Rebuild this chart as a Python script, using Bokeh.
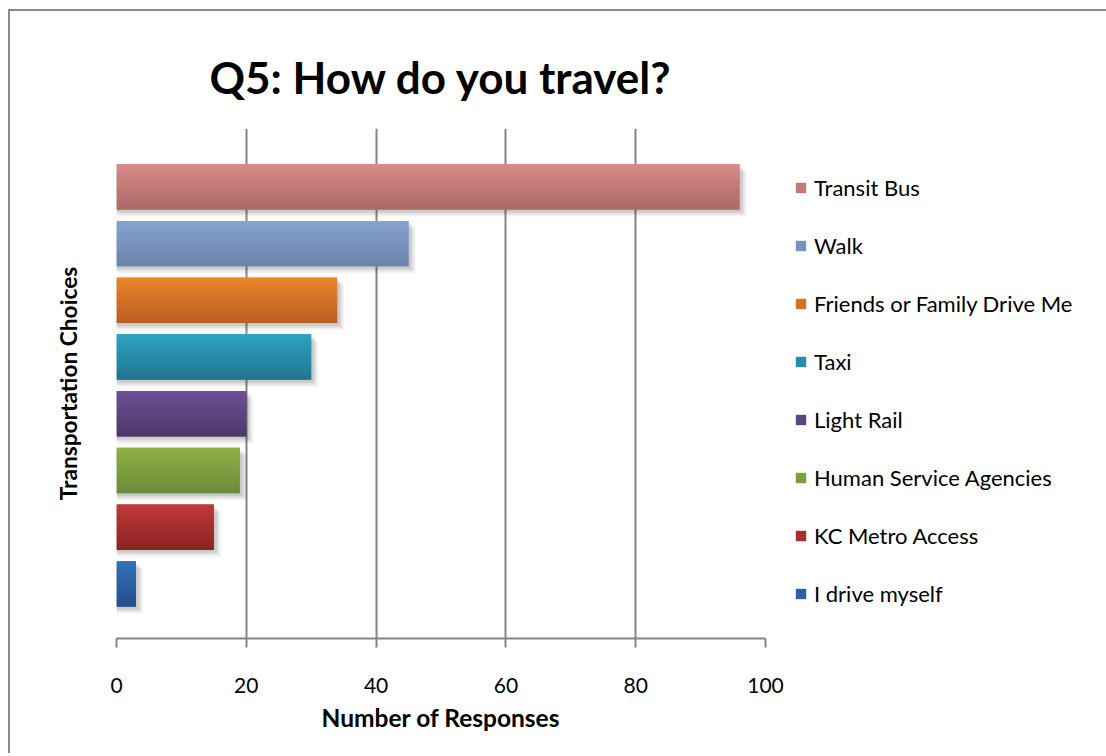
import numpy as np
from bokeh.plotting import figure
from bokeh.models import Range1d, Legend, LegendItem, FixedTicker
from bokeh.embed import file_html
from bokeh.resources import INLINE

# ---- data ----
categories = ["I drive myself", "KC Metro Access", "Human Service Agencies", "Light Rail",
              "Taxi", "Friends or Family Drive Me", "Walk", "Transit Bus"]
values = [3, 15, 19, 20, 30, 34, 45, 96]
x_ticks = [0, 20, 40, 60, 80, 100]

top_colors = ["#3572BA", "#C23A38", "#90B244", "#6F5197", "#2EA3C1", "#EF8529", "#88A4D3", "#D98B89"]
bottom_colors = ["#234E87", "#8A2322", "#698A3A", "#4D366A", "#207590", "#B75D24", "#6A82A9", "#A86A68"]

FONT = "Lato"
GRID = "#848484"

def hex2rgb(h):
    h = h.lstrip("#")
    return np.array([int(h[i:i + 2], 16) for i in (0, 2, 4)], dtype=float)

def rgb2hex(c):
    return "#%02x%02x%02x" % tuple(int(round(v)) for v in c)

p = figure(frame_width=649, frame_height=510, output_backend="svg", toolbar_location=None,
           x_range=Range1d(0, 100), y_range=Range1d(-0.963, 8.03),
           min_border_left=106, min_border_right=12, min_border_top=117, min_border_bottom=117,
           background_fill_color="white", border_fill_color="white")
p.outline_line_color = None
p.margin = (11, 0, 0, 10)
p.styles = {"box-shadow": "-2px -2px 0px 0px #8a8a8a"}

# grid
p.xgrid.ticker = FixedTicker(ticks=x_ticks)
p.xgrid.grid_line_color = GRID
p.xgrid.grid_line_width = 2
p.ygrid.grid_line_color = None

# x axis
p.xaxis.ticker = FixedTicker(ticks=x_ticks)
p.xaxis.axis_line_color = GRID
p.xaxis.axis_line_width = 2
p.xaxis.major_tick_line_color = GRID
p.xaxis.major_tick_line_width = 2
p.xaxis.major_tick_out = 9
p.xaxis.major_tick_in = 0
p.xaxis.minor_tick_line_color = None
p.xaxis.major_label_text_font = FONT
p.xaxis.major_label_text_font_size = "21px"
p.xaxis.major_label_text_color = "black"
p.xaxis.major_label_standoff = 30
p.xaxis.axis_label = "Number of Responses"
p.xaxis.axis_label_text_font = FONT
p.xaxis.axis_label_text_font_size = "24.5px"
p.xaxis.axis_label_text_font_style = "bold"
p.xaxis.axis_label_text_color = "black"
p.xaxis.axis_label_standoff = 7

# y axis
p.yaxis.ticker = FixedTicker(ticks=[])
p.yaxis.axis_line_color = None
p.yaxis.major_tick_line_color = None
p.yaxis.minor_tick_line_color = None
p.yaxis.major_label_text_font_size = "0px"
p.yaxis.axis_label = "Transportation Choices"
p.yaxis.axis_label_text_font = FONT
p.yaxis.axis_label_text_font_size = "22.7px"
p.yaxis.axis_label_text_font_style = "bold"
p.yaxis.axis_label_text_color = "black"
p.yaxis.axis_label_standoff = 35

# title
p.title.text = "Q5: How do you travel?"
p.title.text_font = FONT
p.title.text_font_size = "44px"
p.title.text_font_style = "bold"
p.title.text_color = "black"
p.title.align = "center"
p.title.standoff = 52

BAR_H = 0.80
ypos = list(range(len(categories)))

# shadows
px_x = 100.0 / 649.0
px_y = 8.993 / 510.0
for k, a in [(7, 0.05), (5, 0.07), (3, 0.09)]:
    p.quad(left=[0] * len(values), right=[v + k * px_x for v in values],
           top=[y + BAR_H / 2 - k * px_y for y in ypos],
           bottom=[y - BAR_H / 2 - k * px_y for y in ypos],
           fill_color="black", fill_alpha=a, line_color=None)

# base bars (legend renderers)
mid_colors = [rgb2hex((hex2rgb(t) + hex2rgb(b)) / 2) for t, b in zip(top_colors, bottom_colors)]
base = []
for i, (cat, v) in enumerate(zip(categories, values)):
    r = p.hbar(y=[ypos[i]], right=[v], left=0, height=BAR_H,
               fill_color=mid_colors[i], line_color=None)
    base.append(r)

# gradient strips
N = 16
ys, rights, cols = [], [], []
for i, v in enumerate(values):
    t = hex2rgb(top_colors[i]); b = hex2rgb(bottom_colors[i])
    for k in range(N):
        f = (k + 0.5) / N
        ys.append(ypos[i] + BAR_H / 2 - f * BAR_H)
        rights.append(v)
        cols.append(rgb2hex(t + (b - t) * f))
p.hbar(y=ys, right=rights, left=0, height=BAR_H / N * 1.04, fill_color=cols, line_color=None)

# legend
items = [LegendItem(label=categories[i], renderers=[base[i]]) for i in reversed(range(len(categories)))]
legend = Legend(items=items, location=(29, 31))
legend.label_text_font = FONT
legend.label_text_font_size = "22px"
legend.label_text_color = "black"
legend.glyph_width = 13
legend.glyph_height = 13
legend.label_height = 20
legend.label_standoff = 7
legend.spacing = 31
legend.padding = 10
legend.margin = 0
legend.border_line_color = None
legend.background_fill_alpha = 0
p.add_layout(legend, "right")

open("out.html", "w").write(file_html(p, INLINE))
